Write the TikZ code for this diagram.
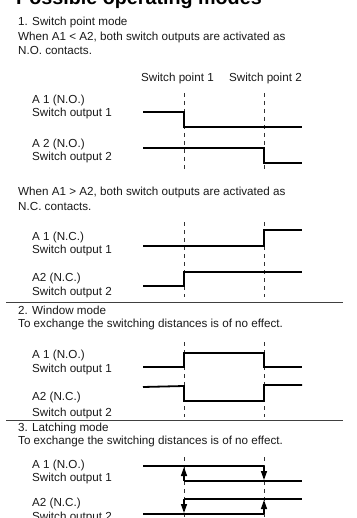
\documentclass[tikz,border=0pt]{standalone}
\usepackage{fontspec}
\setmainfont{Liberation Sans}
\usetikzlibrary{arrows.meta}
\begin{document}
\begin{tikzpicture}[x=1bp,y=-1bp,
        lbl/.style={anchor=base west,inner sep=0pt,font=\fontsize{11.7}{13}\selectfont,text=black!90},
        sigline/.style={line width=1.8bp,line join=miter},
        guide/.style={line width=0.8bp,dash pattern=on 4bp off 4bp,black!80},
        rule/.style={line width=1bp,black!75},
        latch/.style={line width=1.4bp,-{Triangle[length=9bp,width=6bp]}}]
    \path[use as bounding box,clip] (0,0) rectangle (356,518);
    \node[anchor=base west,inner sep=0pt,font=\fontsize{19.8}{22}\selectfont\bfseries] (title) at (16,4.5) {Possible operating modes};
    % 1. switch point mode
    \node[lbl] (m1) at (18,26) {1. Switch point mode};
    \node[lbl] (m1a) at (18,40.5) {When A1 < A2, both switch outputs are activated as};
    \node[lbl] (m1b) at (18,55) {N.O. contacts.};
    \node[lbl] (sp1) at (141,82) {Switch point 1};
    \node[lbl] (sp2) at (229,82) {Switch point 2};
    \node[lbl] (a1no) at (32,104) {A 1 (N.O.)};
    \node[lbl] (so1) at (32,117) {Switch output 1};
    \node[lbl] (a2no) at (32,148) {A 2 (N.O.)};
    \node[lbl] (so2) at (32,161) {Switch output 2};
    \foreach \x in {184,264}
        \draw[guide] (\x,93) -- (\x,169);
    \draw[sigline] (143,112) -- (184,112) -- (184,127) -- (302,127);
    \draw[sigline] (143,148) -- (264,148) -- (264,163) -- (302,163);
    \node[lbl] (m1c) at (18,196) {When A1 > A2, both switch outputs are activated as};
    \node[lbl] (m1d) at (18,210) {N.C. contacts.};
    \node[lbl] (a1nc) at (32,240) {A 1 (N.C.)};
    \node[lbl] (so3) at (32,253) {Switch output 1};
    \node[lbl] (a2nc) at (32,281) {A2 (N.C.)};
    \node[lbl] (so4) at (32,295) {Switch output 2};
    \foreach \x in {184,264}
        \draw[guide] (\x,222) -- (\x,297);
    \draw[sigline] (143,246) -- (264,246) -- (264,230) -- (302,230);
    \draw[sigline] (143,286) -- (184,286) -- (184,272) -- (302,272);
    \draw[rule] (6,302) -- (343,302);
    % 2. window mode
    \node[lbl] (m2) at (18,314.5) {2. Window mode};
    \node[lbl] (m2a) at (18,327) {To exchange the switching distances is of no effect.};
    \node[lbl] (a1no2) at (32,358) {A 1 (N.O.)};
    \node[lbl] (so5) at (32,372) {Switch output 1};
    \node[lbl] (a2nc2) at (32,400) {A2 (N.C.)};
    \node[lbl] (so6) at (32,416) {Switch output 2};
    \foreach \x in {184,264}
        \draw[guide] (\x,342) -- (\x,417);
    \draw[sigline] (143,367) -- (184,367) -- (184,353) -- (264,353) -- (264,367) -- (302,367);
    \draw[sigline] (143,387) -- (184,386) -- (184,401) -- (264,401) -- (264,385) -- (302,385);
    \draw[rule] (6,420) -- (343,420);
    % 3. latching mode
    \node[lbl] (m3) at (18,431) {3. Latching mode};
    \node[lbl] (m3a) at (18,444) {To exchange the switching distances is of no effect.};
    \node[lbl] (a1no3) at (32,468) {A 1 (N.O.)};
    \node[lbl] (so7) at (32,481) {Switch output 1};
    \node[lbl] (a2nc3) at (32,506) {A2 (N.C.)};
    \node[lbl] (so8) at (32,520) {Switch output 2};
    \foreach \x in {184,264}
        \draw[guide] (\x,457) -- (\x,520);
    \draw[sigline] (143,466) -- (264,466);
    \draw[sigline] (184,481) -- (302,481);
    \draw[latch] (184,481) -- (184,467);
    \draw[latch] (264,466) -- (264,480);
    \draw[sigline] (184,499) -- (302,499);
    \draw[sigline] (143,514) -- (264,514);
    \draw[latch] (184,499) -- (184,513);
    \draw[latch] (264,514) -- (264,500);
\end{tikzpicture}
\end{document}
